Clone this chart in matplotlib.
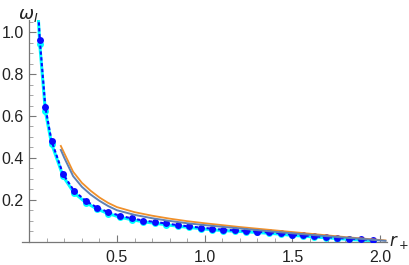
import matplotlib.pyplot as plt
import numpy as np

# data points
r_pts = [0.042, 0.060, 0.092, 0.127, 0.193, 0.255, 0.322, 0.386, 0.451, 0.517, 0.584,
         0.650, 0.717, 0.779, 0.846, 0.911, 0.977, 1.042, 1.106, 1.171, 1.235,
         1.300, 1.366, 1.433, 1.496, 1.562, 1.625, 1.692, 1.756, 1.822, 1.889, 1.957]
w_blue = [1.25, 0.965, 0.641, 0.481, 0.322, 0.243, 0.195, 0.163, 0.141, 0.124, 0.111,
          0.101, 0.094, 0.087, 0.079, 0.073, 0.067, 0.062, 0.057, 0.054, 0.051,
          0.048, 0.044, 0.040, 0.033, 0.030, 0.025, 0.022, 0.018, 0.014, 0.011, 0.008]
w_cyan = [1.22, 0.942, 0.622, 0.468, 0.312, 0.234, 0.187, 0.156, 0.134, 0.117, 0.105,
          0.095, 0.088, 0.081, 0.074, 0.068, 0.062, 0.057, 0.053, 0.050, 0.047,
          0.044, 0.040, 0.036, 0.030, 0.027, 0.022, 0.019, 0.015, 0.011, 0.008, 0.005]

r_curve = [0.18, 0.2, 0.25, 0.3, 0.35, 0.4, 0.45, 0.5, 0.6, 0.7, 0.8, 0.9, 1.0,
           1.1, 1.2, 1.3, 1.4, 1.5, 1.6, 1.7, 1.8, 1.9, 2.0, 2.03]
w_orange = [0.457, 0.422, 0.334, 0.281, 0.243, 0.211, 0.185, 0.165, 0.141, 0.124, 0.110,
            0.098, 0.088, 0.079, 0.070, 0.062, 0.054, 0.046, 0.038, 0.030, 0.022,
            0.015, 0.008, 0.006]
w_steel = [0.438, 0.400, 0.313, 0.262, 0.225, 0.195, 0.170, 0.150, 0.128, 0.112, 0.099,
           0.088, 0.079, 0.071, 0.063, 0.055, 0.047, 0.040, 0.033, 0.026, 0.019,
           0.013, 0.006, 0.004]

xticks = [0.5, 1.0, 1.5, 2.0]
yticks = [0.2, 0.4, 0.6, 0.8, 1.0]

plt.rcParams['font.family'] = ['Liberation Sans', 'DejaVu Sans']
plt.rcParams['mathtext.fontset'] = 'dejavusans'

fig = plt.figure(figsize=(4.09, 2.65), dpi=100)
ax = fig.add_axes([0.0543, 0.088, 0.8925, 0.838])

ax.plot(r_pts, w_cyan, color='#00ffff', lw=2.2, marker='o', ms=5.0, mew=0, zorder=2)
ax.plot(r_pts, w_blue, color='#0a0aff', lw=1.5, ls=(0, (1.6, 1.2)), marker='o', ms=5.0, mew=0, zorder=3)
ax.plot(r_curve, w_orange, color='#f0902a', lw=1.3, zorder=4)
ax.plot(r_curve, w_steel, color='#5e81b5', lw=1.4, zorder=5)

ax.set_xlim(-0.04, 2.04)
ax.set_ylim(0, 1.06)

for s in ['top', 'right']:
    ax.spines[s].set_visible(False)
ax.spines['left'].set_position(('data', 0))
for s in ['left', 'bottom']:
    ax.spines[s].set_color('#777777')
    ax.spines[s].set_linewidth(0.9)

ax.set_xticks(xticks)
ax.set_xticks(np.arange(1, 21) / 10, minor=True)
ax.set_yticks(yticks)
ax.set_yticks(np.arange(1, 22) / 20, minor=True)
ax.set_xticklabels(['0.5', '1.0', '1.5', '2.0'])
ax.set_yticklabels(['0.2', '0.4', '0.6', '0.8', '1.0'])
ax.tick_params(which='major', direction='in', length=5, width=0.8, color='#777777',
               labelsize=11.5, labelcolor='#222222')
ax.tick_params(which='minor', direction='in', length=3, width=0.6, color='#999999')
ax.tick_params(axis='x', pad=6)
ax.tick_params(axis='y', pad=4)

fig.text(0.045, 0.975, r'$\omega_I$', fontsize=13, va='top', ha='left', color='#222222')
fig.text(0.952, 0.085, r'$r_+$', fontsize=12, va='center', ha='left', color='#222222')

fig.savefig('out.png', dpi=100)
